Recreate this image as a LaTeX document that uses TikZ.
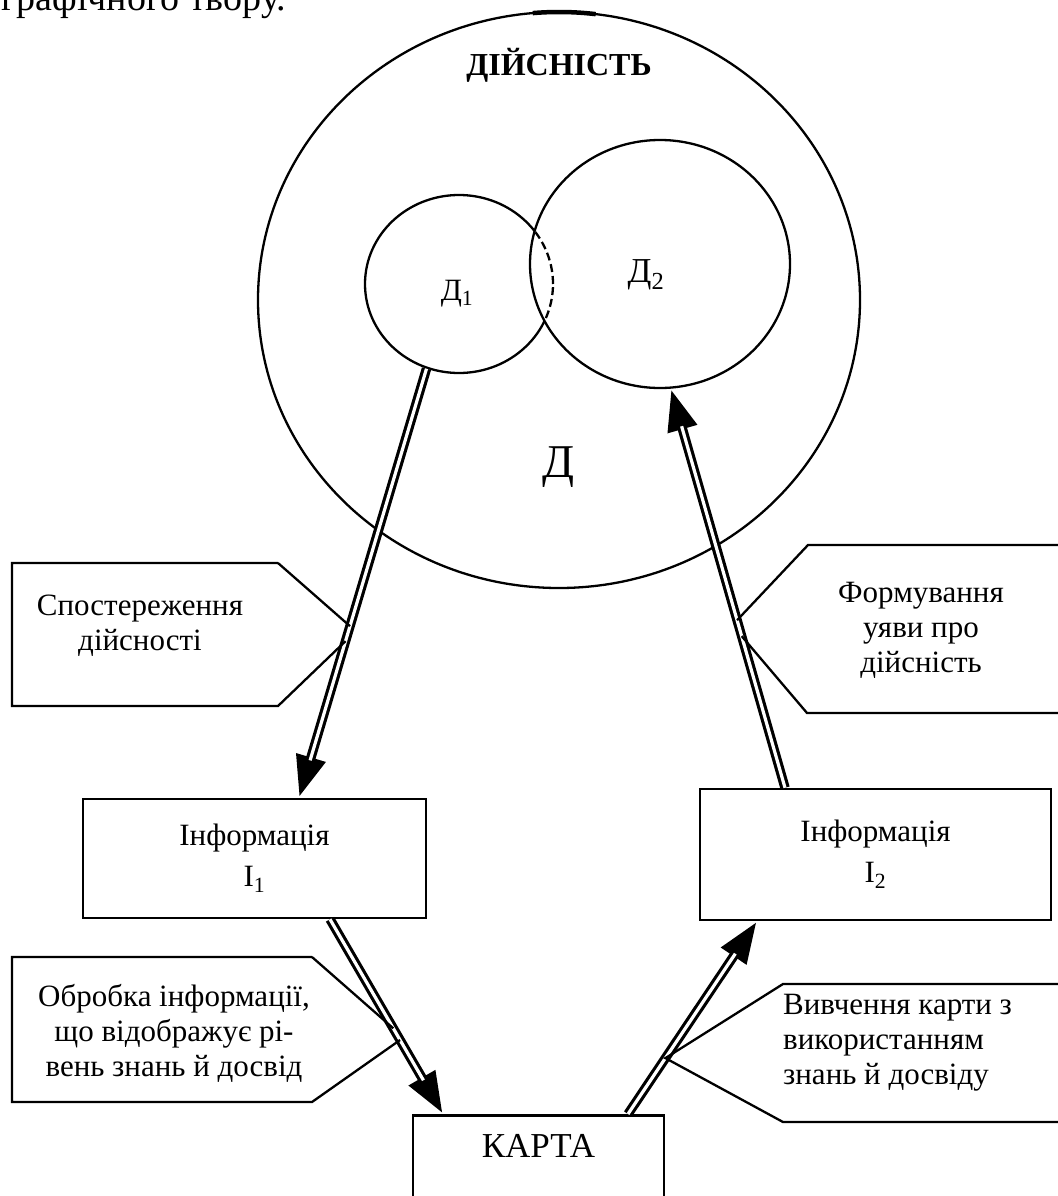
\documentclass[tikz,border=0pt]{standalone}
\usepackage{fontspec}
\setmainfont{Liberation Serif}
\usetikzlibrary{shapes.geometric,arrows.meta}

\begin{document}
\begin{tikzpicture}[
x=1pt, y=-1pt, % one unit = one pixel of the scan, y runs downwards
line width=2.3pt,
circ/.style={ellipse, draw, inner sep=0pt},
box/.style={draw, line width=2.5pt, inner sep=0pt, align=center, font=\fontsize{31}{41}\selectfont},
note/.style={align=center, inner sep=0pt, font=\fontsize{31}{35}\selectfont},
flow/.style={line width=9.5pt, -{Triangle[length=42pt, width=28pt]},
  postaction={draw=white, line width=3.2pt, -, shorten >=39pt}}
]
\useasboundingbox (0,0) rectangle (1057,1196);

% ================= Page text cut off above the figure =================
\node[anchor=base east, inner sep=0pt, font=\fontsize{38}{44}\selectfont] (above) at (287,11) {графічного твору.};

% ================= Circles (reality and its parts) =================
\node[circ, minimum width=602pt, minimum height=576pt] (D) at (559,300) {};
\draw[line width=4.5pt] ([shift={(83:301pt and 288pt)}]D.center) arc[start angle=83, end angle=95, x radius=301pt, y radius=288pt];

\node[circ, minimum width=188pt, minimum height=178pt] (D1) at (459,284) {};
\node[circ, fill=white, minimum width=260pt, minimum height=248pt] (D2) at (660,264) {};

% hidden part of D1 inside D2
\begin{scope}
\clip (660,264) ellipse [x radius=129pt, y radius=123pt];
\draw[dash pattern=on 8pt off 4pt] (459,284) ellipse [x radius=94pt, y radius=89pt];
\end{scope}

% labels
\node[anchor=base, inner sep=0pt, font=\fontsize{32}{38}\selectfont\bfseries] (real) at (559,76) {ДІЙСНІСТЬ};
\node[anchor=base, inner sep=0pt, font=\fontsize{31}{36}\selectfont] (D1lab) at (457,300) {Д\textsubscript{1}};
\node[anchor=base, inner sep=0pt, font=\fontsize{35}{40}\selectfont] (D2lab) at (646,282) {Д\textsubscript{2}};
\node[anchor=base, inner sep=0pt, font=\fontsize{47}{52}\selectfont] (Dlab) at (559,477) {Д};

% ================= Boxes =================
\node[box, minimum width=343pt, minimum height=119pt] (I1) at (254.5,858.5) {Інформація\\I\textsubscript{1}};
\node[box, minimum width=351pt, minimum height=131pt] (I2) at (875.5,854.5) {Інформація\\I\textsubscript{2}};
\node[box, anchor=north, minimum width=251pt, inner ysep=19pt, text depth=80pt, font=\fontsize{35}{40}\selectfont] (map) at (538.5,1114) {КАРТА};

% ================= Arrows =================
\draw[flow] (D1.249) -- coordinate[pos=0.60] (obsA) coordinate[pos=0.635] (obsB) ([xshift=44.5pt]I1.north);
\draw[flow] ([xshift=75.5pt]I1.south) -- coordinate[pos=0.56] (procA) coordinate[pos=0.62] (procB) ([xshift=-95.5pt]map.north);
\draw[flow] ([xshift=89.5pt]map.north) -- coordinate[pos=0.29] (studyA) ([xshift=-118.5pt]I2.south);
\draw[flow] ([xshift=-90.5pt]I2.north) -- coordinate[pos=0.38] (ideaB) coordinate[pos=0.42] (ideaA) (D2.275);

% ================= Callouts =================
\node[note] (obs) at (140,626) {Спостереження\\дійсності};
\draw (278,563) -- (12,563) -- (12,706) -- (278,706) -- (obsB);
\draw (278,563) -- (obsA);

\node[note] (idea) at (921,630) {Формування\\уяви про\\дійсність};
\draw (1070,545) -- (808,545) -- (ideaA);
\draw (1070,713) -- (807,713) -- (ideaB);

\node[note] (proc) at (174,1033) {Обробка інформації,\\що відображує рі-\\вень знань й досвід};
\draw (312,957) -- (12,957) -- (12,1102) -- (312,1102) -- (procB);
\draw (312,957) -- (procA);

\node[note, align=left, anchor=west] (study) at (782,1043) {Вивчення карти з\\використанням\\знань й досвіду};
\draw (1070,984) -- (783,984) -- (studyA) -- (783,1122) -- (1070,1122);

\end{tikzpicture}
\end{document}
